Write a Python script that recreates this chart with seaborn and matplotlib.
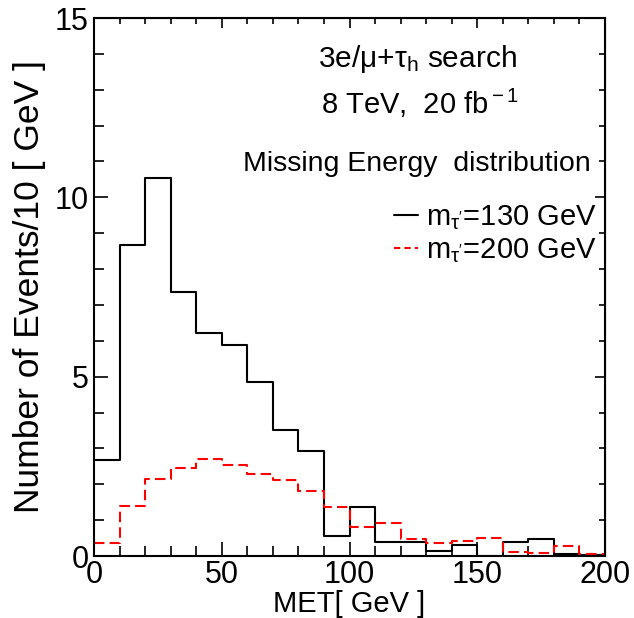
import matplotlib
matplotlib.use("Agg")
import matplotlib.pyplot as plt
from matplotlib.lines import Line2D
from matplotlib.ticker import MultipleLocator, NullFormatter
import seaborn as sns

# ---------------------------------------------------------------------
# Data (events per 10 GeV bin)
# ---------------------------------------------------------------------
bin_edges = list(range(0, 210, 10))
bin_centers = [e + 5 for e in bin_edges[:-1]]
m130 = [2.69, 8.66, 10.53, 7.36, 6.22, 5.89, 4.85, 3.50, 2.94, 0.57,
        1.37, 0.38, 0.38, 0.14, 0.31, 0.0, 0.38, 0.47, 0.06, 0.03]
m200 = [0.36, 1.39, 2.15, 2.45, 2.71, 2.54, 2.29, 2.13, 1.82, 1.38,
        0.82, 0.93, 0.47, 0.37, 0.42, 0.50, 0.11, 0.08, 0.29, 0.05]
labels = [r"m$_{\tau^{\prime}}$=130 GeV", r"m$_{\tau^{\prime}}$=200 GeV"]

sns.set_style("ticks")
plt.rcParams["font.family"] = ["Liberation Sans", "DejaVu Sans"]
plt.rcParams["mathtext.fontset"] = "custom"
plt.rcParams["mathtext.rm"] = "Liberation Sans"
plt.rcParams["mathtext.it"] = "Liberation Sans:italic"
plt.rcParams["mathtext.default"] = "regular"
for k in ["text.color", "axes.labelcolor", "xtick.color", "ytick.color", "axes.edgecolor"]:
    plt.rcParams[k] = "black"

fig = plt.figure(figsize=(6.34, 6.18), dpi=100)
ax = fig.add_axes([94 / 634, 1 - 556 / 618, 511 / 634, 538 / 618])

sns.histplot(x=bin_centers, weights=m130, bins=bin_edges, element="step",
             fill=False, color="black", linewidth=1.5, ax=ax)
sns.histplot(x=bin_centers, weights=m200, bins=bin_edges, element="step",
             fill=False, color="red", linewidth=1.5, linestyle=(0, (5, 2.5)), ax=ax)

ax.set_xlim(0, 200)
ax.set_ylim(0, 15)
ax.xaxis.set_major_locator(MultipleLocator(50))
ax.xaxis.set_minor_locator(MultipleLocator(10))
ax.yaxis.set_major_locator(MultipleLocator(5))
ax.yaxis.set_minor_locator(MultipleLocator(1))
ax.tick_params(which="both", direction="in", labelsize=22, width=1.2)
ax.tick_params(which="major", length=10)
ax.tick_params(which="minor", length=7)
ax.tick_params(axis="x", pad=3)
ax.tick_params(axis="y", pad=4)
for s in ax.spines.values():
    s.set_linewidth(1.5)

# shorter ticks on top and right, like the original frame
top = ax.secondary_xaxis("top")
right = ax.secondary_yaxis("right")
top.xaxis.set_major_locator(MultipleLocator(50))
top.xaxis.set_minor_locator(MultipleLocator(10))
right.yaxis.set_major_locator(MultipleLocator(5))
right.yaxis.set_minor_locator(MultipleLocator(1))
for sec in (top, right):
    sec.tick_params(which="both", direction="in", width=1.2, labelcolor="none")
    sec.tick_params(which="major", length=7)
    sec.tick_params(which="minor", length=4)
top.xaxis.set_major_formatter(NullFormatter())
right.yaxis.set_major_formatter(NullFormatter())

ax.set_xlabel("MET[ GeV ]", fontsize=21, labelpad=0)
ax.set_ylabel("Number of Events/10 [ GeV ]", fontsize=25.5, labelpad=6)

ax.text(0.632, 0.924, r"3e/μ+τ$_{\rm h}$ search", transform=ax.transAxes,
        ha="center", va="center", fontsize=21.5)
ax.text(0.638, 0.842, r"8 TeV,  20 fb$^{\rm -1}$", transform=ax.transAxes,
        ha="center", va="center", fontsize=21)
ax.text(0.972, 0.728, "Missing Energy  distribution", transform=ax.transAxes,
        ha="right", va="center", fontsize=20.5)

handles = [Line2D([], [], color="black", lw=1.5),
           Line2D([], [], color="red", lw=1.5, linestyle=(0, (3, 2)))]
ax.legend(handles, labels, loc="upper right", bbox_to_anchor=(0.99, 0.662),
          frameon=False, fontsize=21, handlelength=0.8, handletextpad=0.3,
          labelspacing=0.15, borderaxespad=0.0, borderpad=0.1)

fig.savefig("out.png", dpi=100)
